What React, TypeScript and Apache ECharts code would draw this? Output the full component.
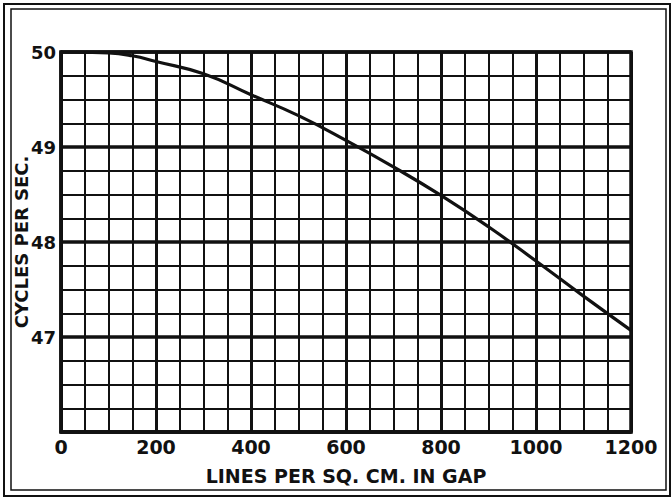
import React, { useEffect, useRef } from "react";
import * as echarts from "echarts";

const xValues = [0, 100, 150, 200, 300, 400, 500, 600, 700, 800, 900, 1000, 1100, 1200];
const yValues = [50, 49.99, 49.96, 49.9, 49.77, 49.55, 49.33, 49.07, 48.79, 48.49, 48.16, 47.8, 47.43, 47.07];
const xTicks = [0, 200, 400, 600, 800, 1000, 1200];
const yTicks = [47, 48, 49, 50];
const xTitle = "LINES PER SQ. CM. IN GAP";
const yTitle = "CYCLES PER SEC.";

const FONT = "DejaVu Sans";
const INK = "#111";

export default function App() {
  const ref = useRef<HTMLDivElement>(null);
  useEffect(() => {
    if (!ref.current) return;
    const chart = echarts.init(ref.current, null, { renderer: "svg" });
    const data = xValues.map((x, i) => [x, yValues[i]]);
    chart.setOption({
      animation: false,
      backgroundColor: "#fff",
      grid: {
        left: 61,
        right: 41,
        top: 52,
        bottom: 67,
        containLabel: false,
        outerBoundsMode: "none",
        show: true,
        borderColor: INK,
        borderWidth: 3.5,
        backgroundColor: "transparent",
        z: 5,
      },
      xAxis: [
        {
          type: "value",
          min: 0,
          max: 1200,
          interval: 50,
          position: "bottom",
          axisLine: { show: true, lineStyle: { color: INK, width: 3.5 } },
          axisTick: { show: false },
          splitLine: { show: true, lineStyle: { color: INK, width: 2 } },
          axisLabel: {
            color: INK,
            fontFamily: FONT,
            fontSize: 19,
            fontWeight: "bold",
            margin: 5,
            formatter: (v: number) => (xTicks.includes(v) ? String(v) : ""),
          },
          name: xTitle,
          nameLocation: "middle",
          nameGap: 34,
          nameMoveOverlap: false,
          nameTextStyle: { color: INK, fontFamily: FONT, fontSize: 19, fontWeight: "bold" },
        },
        {
          type: "value",
          min: 0,
          max: 1200,
          interval: 200,
          position: "bottom",
          axisLine: { show: false },
          axisTick: { show: false },
          axisLabel: { show: false },
          splitLine: { show: true, lineStyle: { color: INK, width: 3 } },
        },
      ],
      yAxis: [
        {
          type: "value",
          min: 46,
          max: 50,
          interval: 0.25,
          axisLine: { show: true, lineStyle: { color: INK, width: 3.5 } },
          axisTick: { show: false },
          splitLine: { show: true, lineStyle: { color: INK, width: 2 } },
          axisLabel: {
            color: INK,
            fontFamily: FONT,
            fontSize: 18,
            fontWeight: "bold",
            margin: 5,
            formatter: (v: number) => (yTicks.includes(v) ? String(v) : ""),
          },
          name: yTitle,
          nameLocation: "middle",
          nameGap: 31,
          nameRotate: 90,
          nameMoveOverlap: false,
          nameTextStyle: { color: INK, fontFamily: FONT, fontSize: 18, fontWeight: "bold" },
        },
        {
          type: "value",
          min: 46,
          max: 50,
          interval: 1,
          position: "left",
          axisLine: { show: false },
          axisTick: { show: false },
          axisLabel: { show: false },
          splitLine: { show: true, lineStyle: { color: INK, width: 3.5 } },
        },
      ],
      series: [
        {
          type: "line",
          data,
          smooth: true,
          showSymbol: false,
          symbol: "none",
          lineStyle: { color: INK, width: 3.2 },
          z: 10,
        },
      ],
      graphic: [
        {
          type: "rect",
          shape: { x: 4, y: 4, width: 666, height: 492 },
          style: { fill: "none", stroke: INK, lineWidth: 2 },
          silent: true,
        },
        {
          type: "rect",
          shape: { x: 11, y: 9, width: 655, height: 481 },
          style: { fill: "none", stroke: INK, lineWidth: 1.5 },
          silent: true,
        },
      ],
    });
    return () => chart.dispose();
  }, []);
  return (
    <div
      ref={ref}
      style={{ position: "fixed", left: 0, top: 0, width: 672, height: 499, background: "#fff" }}
    />
  );
}
